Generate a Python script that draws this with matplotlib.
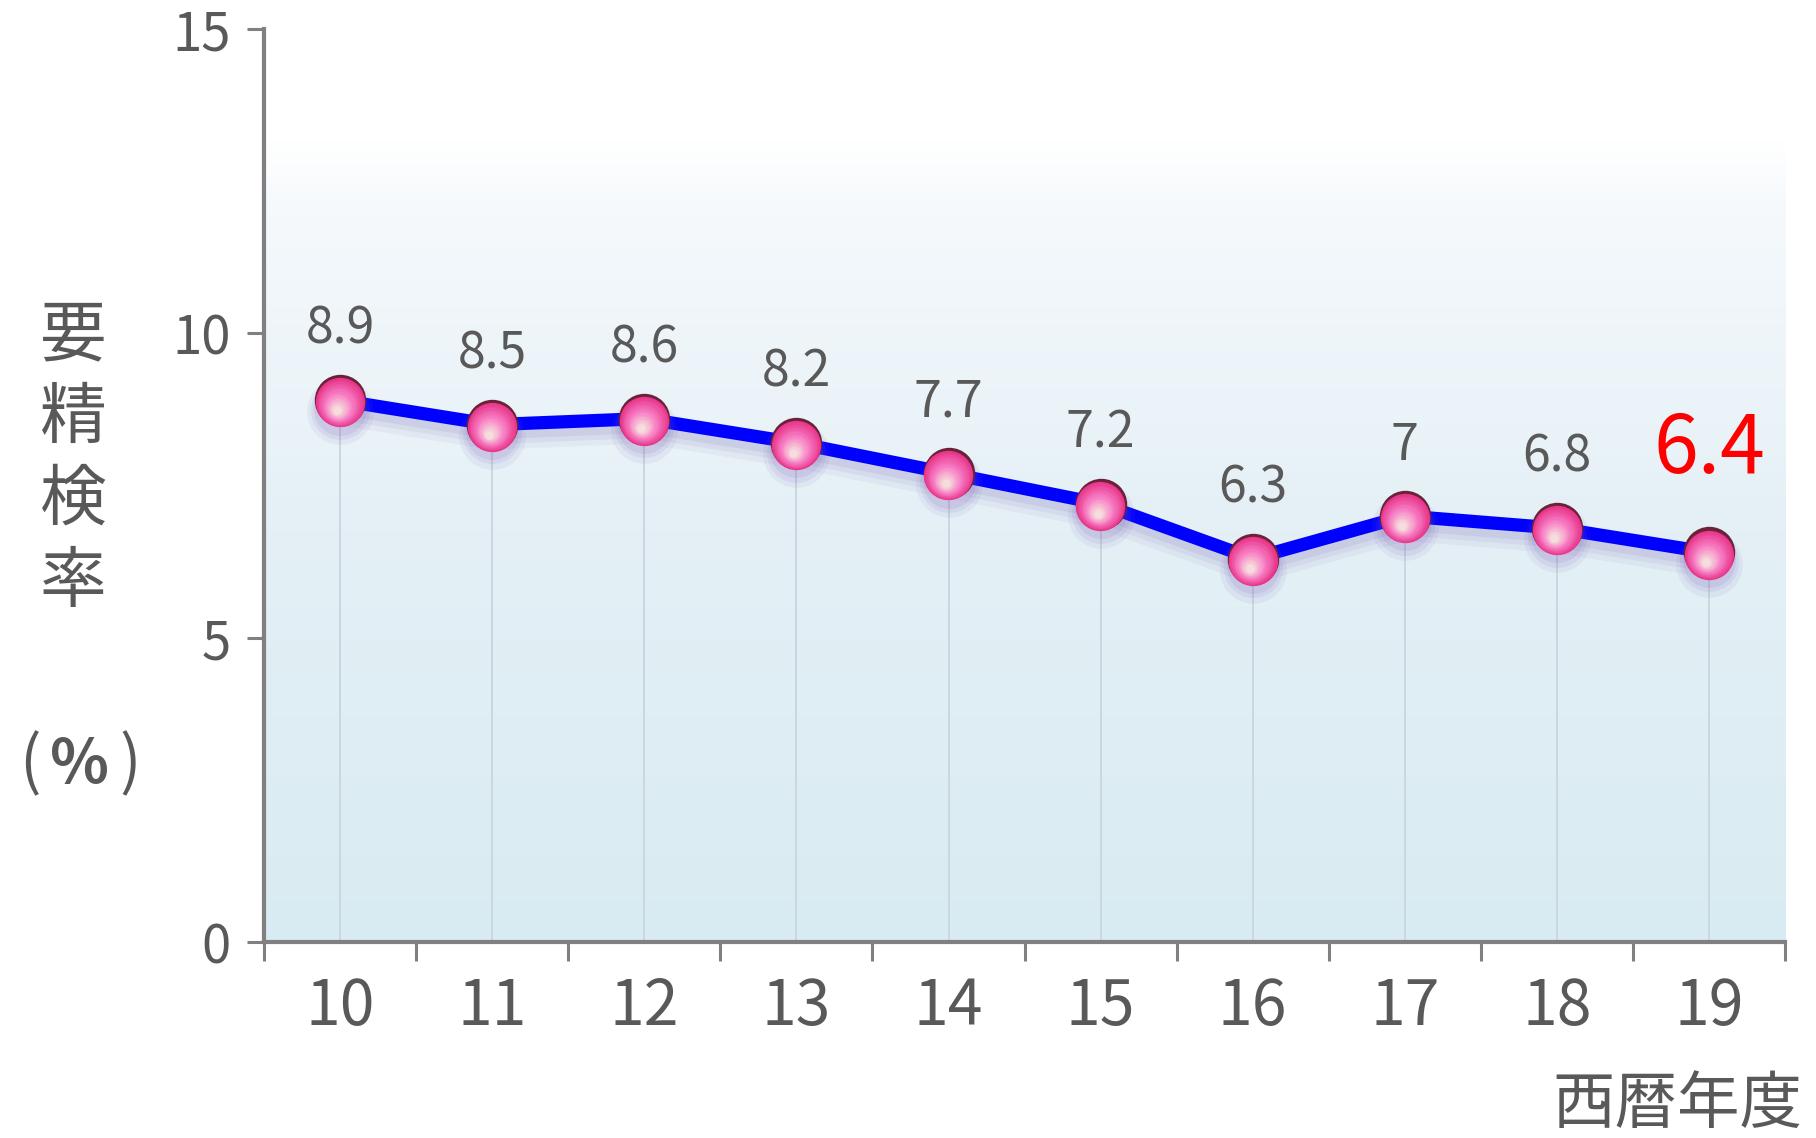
import numpy as np
import matplotlib
matplotlib.use("Agg")
from matplotlib import pyplot as plt
from matplotlib import transforms
from matplotlib.colors import LinearSegmentedColormap, to_rgb

plt.rcParams['font.family'] = ['Noto Sans CJK JP', 'DejaVu Sans']

# data
years = ["10", "11", "12", "13", "14", "15", "16", "17", "18", "19"]
rates = [8.9, 8.5, 8.6, 8.2, 7.7, 7.2, 6.3, 7.0, 6.8, 6.4]
rate_labels = ["8.9", "8.5", "8.6", "8.2", "7.7", "7.2", "6.3", "7", "6.8", "6.4"]
y_ticks = [0, 5, 10, 15]

GRAY_TEXT = "#595959"
AXIS_GRAY = "#808080"

fig = plt.figure(figsize=(18.16, 11.38), dpi=100)
ax = fig.add_axes([0.1454, 0.1722, 0.983 - 0.1454, 0.9745 - 0.1722])

x = np.arange(len(years))

# background gradient (white at top -> pale blue at bottom)
grad_cmap = LinearSegmentedColormap.from_list(
    "bg", [(0.0, "#D9EBF2"), (0.45, "#E4F0F6"), (0.8, "#F5F9FC"),
           (0.88, "#FFFFFF"), (1.0, "#FFFFFF")])
grad = np.linspace(0, 1, 256).reshape(-1, 1)
ax.imshow(grad, extent=[-0.5, len(years) - 0.5, 0, 15], origin="lower",
          aspect="auto", cmap=grad_cmap, zorder=0, interpolation="bicubic")

# drop lines
ax.vlines(x, 0, rates, color="#C9D5DC", lw=1.3, zorder=1)

# soft shadow under the line
for dy, lw, a in [(-7, 22, 0.06), (-6, 16, 0.08), (-5, 11, 0.10)]:
    tr = transforms.offset_copy(ax.transData, fig=fig, x=0, y=dy, units="points")
    ax.plot(x, rates, color="#6A55B0", lw=lw, alpha=a, transform=tr,
            solid_capstyle="round", zorder=2)

ax.plot(x, rates, color="#0000FF", lw=9.5, zorder=3, solid_joinstyle="round")

# marker shadows
for dy, s, a in [(-8, 2300, 0.08), (-7, 1800, 0.10), (-6, 1450, 0.12)]:
    tr = transforms.offset_copy(ax.transData, fig=fig, x=0, y=dy, units="points")
    ax.scatter(x, rates, s=s, color="#7A60B8", alpha=a, lw=0, transform=tr, zorder=4)

# spheres: dark top, pink body, light highlight
R = 18.5
ax.scatter(x, rates, s=(2 * R) ** 2, color="#6A2238", lw=0, zorder=5)
c_edge = np.array(to_rgb("#E8368A"))
c_mid = np.array(to_rgb("#F77CC4"))
c_core = np.array(to_rgb("#F6DCDC"))
n_layers = 16
for i in range(n_layers):
    t = i / (n_layers - 1)
    f = 0.96 - 0.8 * t
    if t < 0.5:
        col = c_edge + (c_mid - c_edge) * (t / 0.5)
    else:
        col = c_mid + (c_core - c_mid) * ((t - 0.5) / 0.5)
    dy = -(1 - f) * R * 0.38 - 1.2
    dx = -(1 - f) * R * 0.14
    tr = transforms.offset_copy(ax.transData, fig=fig, x=dx, y=dy, units="points")
    ax.scatter(x, rates, s=(2 * R * f) ** 2, color=col, lw=0, transform=tr, zorder=6)

# data labels
for xi, v, lab in zip(x, rates, rate_labels):
    if xi == x[-1]:
        ax.annotate(lab, (xi, v), xytext=(0, 44), textcoords="offset points",
                    ha="center", va="bottom", fontsize=58, color="#FF0000", zorder=8)
    else:
        ax.annotate(lab, (xi, v), xytext=(0, 32), textcoords="offset points",
                    ha="center", va="bottom", fontsize=36, color=GRAY_TEXT, zorder=8)

# axes
ax.set_xlim(-0.5, len(years) - 0.5)
ax.set_ylim(0, 15)
ax.set_yticks(y_ticks)
ax.set_yticklabels([str(t) for t in y_ticks])
ax.set_xticks(x)
ax.set_xticklabels(years)
ax.set_xticks(np.arange(-0.5, len(years)), minor=True)

for side in ["top", "right"]:
    ax.spines[side].set_visible(False)
for side in ["left", "bottom"]:
    ax.spines[side].set_color(AXIS_GRAY)
    ax.spines[side].set_linewidth(3)
    ax.spines[side].set_zorder(7)

ax.tick_params(axis="y", direction="out", length=12, width=2.2, color=AXIS_GRAY,
               labelsize=38, labelcolor=GRAY_TEXT, pad=12)
ax.tick_params(axis="x", which="major", length=0, labelsize=45,
               labelcolor=GRAY_TEXT, pad=24)
ax.tick_params(axis="x", which="minor", direction="out", length=14, width=2.2,
               color=AXIS_GRAY)

# axis titles
fig.text(73 / 1816, 1 - 460 / 1138, "要\n精\n検\n率", ha="center", va="center",
         fontsize=48, color=GRAY_TEXT, linespacing=1.28)
pct_y = 1 - 765 / 1138
fig.text(30 / 1816, pct_y, "(", ha="center", va="center", fontsize=46, color=GRAY_TEXT)
fig.text(80 / 1816, pct_y, "%", ha="center", va="center", fontsize=44,
         fontweight="bold", color=GRAY_TEXT)
fig.text(130 / 1816, pct_y, ")", ha="center", va="center", fontsize=46, color=GRAY_TEXT)
fig.text(1802 / 1816, 1 - 1105 / 1138, "西暦年度", ha="right", va="center",
         fontsize=45, color=GRAY_TEXT)

fig.savefig("out.png", dpi=100)
